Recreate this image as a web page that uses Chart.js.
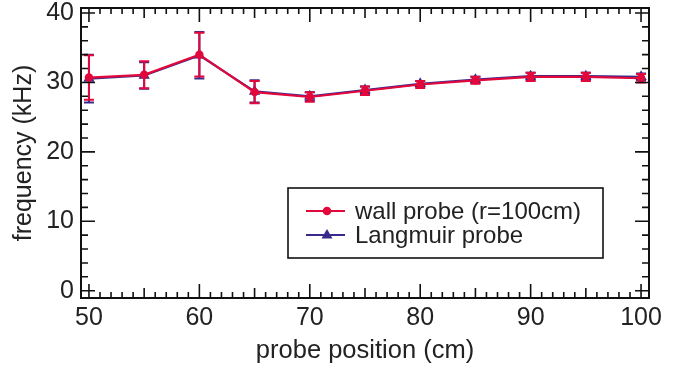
<!DOCTYPE html>
<html>
<head>
<meta charset="utf-8">
<script src="https://cdn.jsdelivr.net/npm/chart.js@4.4.0/dist/chart.umd.min.js"></script>
<style>
  body { margin: 0; background: #fff; }
  #wrap { width: 689px; height: 366px; }
</style>
</head>
<body>
<div id="wrap"><canvas id="freqChart"></canvas></div>
<script>
// probe positions (cm) and measured frequencies (kHz) with their error bars
const positions = [50, 55, 60, 65, 70, 75, 80, 85, 90, 95, 100];
const wallFreq = [30.7, 31.1, 34.0, 28.6, 27.9, 28.8, 29.7, 30.3, 30.8, 30.8, 30.6];
const wallErr  = [3.2, 1.95, 3.15, 1.6, 0.7, 0.6, 0.5, 0.5, 0.6, 0.6, 0.6];
const langFreq = [30.55, 31.0, 33.9, 28.7, 28.0, 28.9, 29.8, 30.4, 30.9, 30.9, 30.8];
const langErr  = [3.45, 1.9, 3.35, 1.6, 0.6, 0.5, 0.4, 0.4, 0.5, 0.5, 0.5];

const xTicks = [50, 60, 70, 80, 90, 100];
const yTicks = [0, 10, 20, 30, 40];

const RED = 'rgb(226, 8, 60)';
const BLUE = 'rgb(56, 42, 140)';
const INK = '#222';

Chart.defaults.font.family = '"Liberation Sans", Arial, sans-serif';
Chart.defaults.color = INK;

// vertical error bars, drawn right after their own dataset
const errorBars = {
  id: 'errorBars',
  afterDatasetDraw(chart, args) {
    const ds = chart.data.datasets[args.index];
    if (!ds.errors) return;
    const y = chart.scales.y;
    const ctx = chart.ctx;
    ctx.save();
    ctx.strokeStyle = ds.borderColor;
    ctx.lineWidth = 2;
    ctx.beginPath();
    args.meta.data.forEach((pt, i) => {
      const v = ds.data[i].y;
      const top = y.getPixelForValue(v + ds.errors[i]);
      const bot = y.getPixelForValue(v - ds.errors[i]);
      ctx.moveTo(pt.x, top); ctx.lineTo(pt.x, bot);
      ctx.moveTo(pt.x - 5, top); ctx.lineTo(pt.x + 5, top);
      ctx.moveTo(pt.x - 5, bot); ctx.lineTo(pt.x + 5, bot);
    });
    ctx.stroke();
    ctx.restore();
  }
};

// closed frame with inward ticks on all four sides
const frameTicks = {
  id: 'frameTicks',
  afterDraw(chart) {
    const {ctx, chartArea: a, scales: {x, y}} = chart;
    ctx.save();
    ctx.strokeStyle = '#111';
    ctx.lineWidth = 1.6;
    ctx.beginPath();
    for (let v = 50; v <= 100; v++) {
      const len = v % 10 === 0 ? 14 : (v % 5 === 0 ? 10 : 6);
      const px = x.getPixelForValue(v);
      ctx.moveTo(px, a.bottom); ctx.lineTo(px, a.bottom - len);
      ctx.moveTo(px, a.top); ctx.lineTo(px, a.top + len);
    }
    for (let v = 0; v <= 40; v += 2) {
      const len = v % 10 === 0 ? 14 : 7;
      const py = y.getPixelForValue(v);
      ctx.moveTo(a.left, py); ctx.lineTo(a.left + len, py);
      ctx.moveTo(a.right, py); ctx.lineTo(a.right - len, py);
    }
    ctx.stroke();
    ctx.lineWidth = 2;
    ctx.strokeRect(a.left, a.top, a.right - a.left, a.bottom - a.top);
    ctx.restore();
  }
};

// boxed legend inside the plot
const boxLegend = {
  id: 'boxLegend',
  afterDraw(chart) {
    const ctx = chart.ctx;
    const bx = 288, by = 188, bw = 315, bh = 70;
    ctx.save();
    ctx.fillStyle = '#fff';
    ctx.fillRect(bx, by, bw, bh);
    ctx.strokeStyle = '#111';
    ctx.lineWidth = 1.6;
    ctx.strokeRect(bx, by, bw, bh);
    chart.data.datasets.forEach((ds, i) => {
      const ly = by + 23 + i * 24;
      ctx.strokeStyle = ds.borderColor;
      ctx.lineWidth = 2;
      ctx.beginPath();
      ctx.moveTo(bx + 18, ly); ctx.lineTo(bx + 57, ly);
      ctx.stroke();
      ctx.fillStyle = ds.borderColor;
      ctx.beginPath();
      if (ds.pointStyle === 'triangle') {
        ctx.moveTo(bx + 39, ly - 6);
        ctx.lineTo(bx + 44.5, ly + 3.5);
        ctx.lineTo(bx + 33.5, ly + 3.5);
        ctx.closePath();
      } else {
        ctx.arc(bx + 39, ly, 4.3, 0, Math.PI * 2);
      }
      ctx.fill();
      ctx.fillStyle = INK;
      ctx.font = '24px "Liberation Sans", Arial, sans-serif';
      ctx.textBaseline = 'middle';
      ctx.fillText(ds.label, bx + 67, ly + 1);
    });
    ctx.restore();
  }
};

const toPoints = (vals) => positions.map((p, i) => ({x: p, y: vals[i]}));

new Chart(document.getElementById('freqChart'), {
  type: 'line',
  data: {
    datasets: [
      {
        label: 'wall probe (r=100cm)',
        data: toPoints(wallFreq),
        errors: wallErr,
        borderColor: RED,
        backgroundColor: RED,
        borderWidth: 2.2,
        pointStyle: 'circle',
        pointRadius: 4.2,
        pointBorderWidth: 0,
      },
      {
        label: 'Langmuir probe',
        data: toPoints(langFreq),
        errors: langErr,
        borderColor: BLUE,
        backgroundColor: BLUE,
        borderWidth: 2.2,
        pointStyle: 'triangle',
        pointRadius: 6.5,
        pointBorderWidth: 0,
      },
    ],
  },
  options: {
    responsive: true,
    maintainAspectRatio: false,
    animation: false,
    layout: { padding: { top: 8, right: 40, left: 0, bottom: 0 } },
    plugins: {
      legend: { display: false },
      tooltip: { enabled: false },
    },
    scales: {
      x: {
        type: 'linear',
        min: 49.28,
        max: 100.72,
        grid: { display: false, drawTicks: false },
        border: { display: false },
        afterBuildTicks: (s) => { s.ticks = xTicks.map((v) => ({value: v})); },
        afterFit: (s) => { s.height = 68; s.paddingLeft = 0; s.paddingRight = 0; },
        ticks: { font: { size: 25 }, padding: 5, maxRotation: 0, color: INK },
        title: {
          display: true,
          text: 'probe position (cm)',
          font: { size: 25.5 },
          color: INK,
          padding: { top: 0, bottom: 0 },
        },
      },
      y: {
        min: -1.05,
        max: 40.72,
        grid: { display: false, drawTicks: false },
        border: { display: false },
        afterBuildTicks: (s) => { s.ticks = yTicks.map((v) => ({value: v})); },
        afterFit: (s) => { s.width = 81; s.paddingTop = 0; s.paddingBottom = 0; },
        ticks: { font: { size: 25 }, padding: 7, color: INK },
        title: {
          display: true,
          text: 'frequency (kHz)',
          font: { size: 25 },
          color: INK,
          padding: { top: 9, bottom: 0 },
        },
      },
    },
  },
  plugins: [errorBars, frameTicks, boxLegend],
});
</script>
</body>
</html>
